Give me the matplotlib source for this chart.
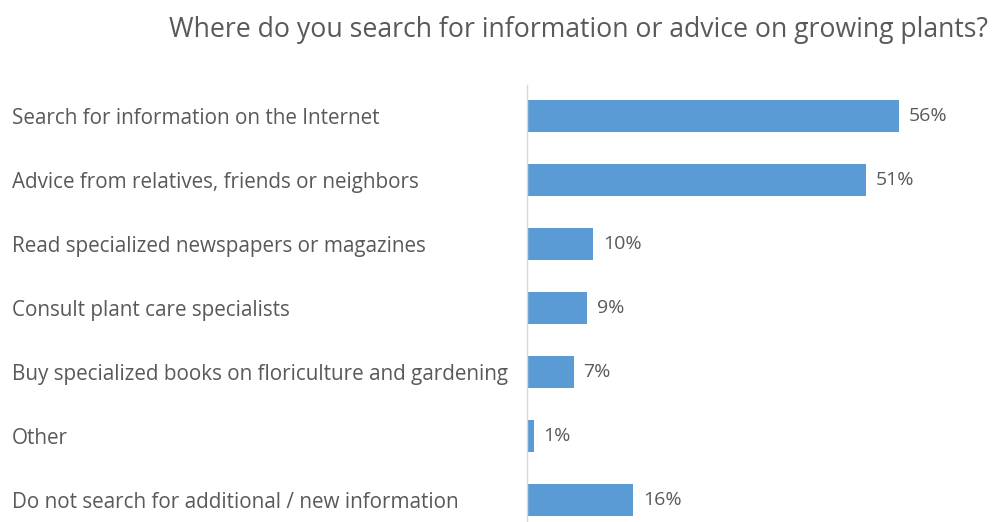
import numpy as np
import matplotlib.pyplot as plt

categories = [
    "Search for information on the Internet",
    "Advice from relatives, friends or neighbors",
    "Read specialized newspapers or magazines",
    "Consult plant care specialists",
    "Buy specialized books on floriculture and gardening",
    "Other",
    "Do not search for additional / new information",
]
values = [56, 51, 10, 9, 7, 1, 16]
title = "Where do you search for information or advice on growing plants?"

text_color = "#595959"
bar_color = "#5B9BD5"

plt.rcParams['font.family'] = ['Open Sans', 'DejaVu Sans']

fig = plt.figure(figsize=(9.95, 5.22), dpi=100)
ax = fig.add_axes([527 / 995, 0.0, (925.6 - 527) / 995, 1 - 85 / 522])

pos = np.arange(len(categories))
ax.barh(pos, values, height=0.5, color=bar_color)
ax.set_xlim(0, 60)
ax.set_ylim(6.34, -0.48)

for p, v in zip(pos, values):
    ax.annotate(f"{v}%", xy=(v, p), xytext=(7, 0), textcoords="offset points",
                va="center", ha="left", fontsize=14, color=text_color)

ax.set_yticks(pos)
ax.set_yticklabels(categories, ha="left", fontsize=14.9, color=text_color)
ax.tick_params(axis="y", length=0, pad=(527 - 12) * 0.72)
ax.set_xticks([])

for s in ["top", "right", "bottom"]:
    ax.spines[s].set_visible(False)
ax.spines["left"].set_color("#d9d9d9")
ax.spines["left"].set_linewidth(1)

fig.text(988 / 995, 1 - 30 / 522, title, ha="right", va="center",
         fontsize=19.2, color=text_color)

fig.savefig("out.png", dpi=100)
